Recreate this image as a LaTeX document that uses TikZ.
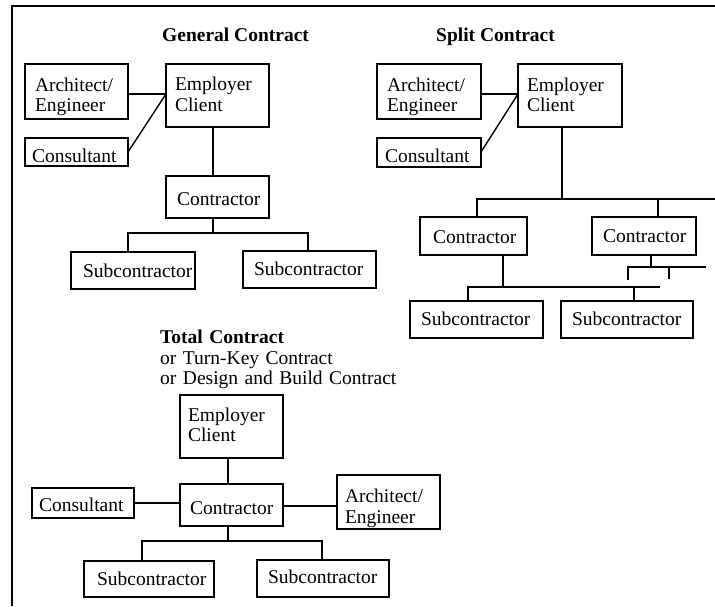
\documentclass[tikz,border=0pt]{standalone}
\usepackage{fontspec}
\setmainfont{Liberation Serif}
\newcommand\diagfont{\fontsize{19.5pt}{20.5pt}\selectfont\hyphenpenalty=10000\exhyphenpenalty=10000}
\newcommand\tightspaces{\spaceskip=0.165em\relax}
\begin{document}
\begin{tikzpicture}[x=1pt,y=-1pt,
  box/.style={draw, line width=1.6pt, rectangle, anchor=north west,
    inner xsep=0pt, inner ysep=0pt, outer sep=0pt, align=left, font=\diagfont},
  % lo: baseline below the box centre by half the value; hi: above it
  lo/.style={text height=#1, text depth=0pt},
  hi/.style={text height=0pt, text depth=#1},
  link/.style={line width=1.4pt, line join=miter},
  stub/.style={line width=2.6pt},
  frame/.style={line width=1.6pt, line join=miter},
  heading/.style={font=\diagfont\bfseries, inner sep=0pt, anchor=base west},
  subhead/.style={font=\diagfont\tightspaces, inner sep=0pt, anchor=base west, align=left, text width=260pt}]
\useasboundingbox (0,0) rectangle (715,606);

% outer frame (top and left edges)
\coordinate (fr-tr) at (715,6);
\coordinate (fr-tl) at (12,6);
\coordinate (fr-bl) at (12,606);
\draw[frame] (fr-tr) -- (fr-tl) -- (fr-bl);

% ---------------- General Contract ----------------
\node[heading] (gc-title) at (162,41.5) {General Contract};
\node[box, minimum width=103pt, minimum height=55pt, text width=83pt, hi=1pt] (gc-ae) at (25,64) {Architect/\\Engineer};
\node[box, minimum width=103pt, minimum height=63pt, text width=85pt, hi=10pt] (gc-ec) at (166,64) {Employer\\Client};
\node[box, minimum width=103pt, minimum height=28pt, text width=89pt, lo=20pt] (gc-cons) at (25,138) {Consultant};
\node[box, minimum width=103pt, minimum height=42pt, text width=81pt, lo=16pt] (gc-ctr) at (166,176) {Contractor};
\node[box, minimum width=124pt, minimum height=37pt, text width=100pt, lo=13pt] (gc-s1) at (71,252) {Subcontractor};
\node[box, minimum width=133pt, minimum height=37pt, text width=111pt, lo=11pt] (gc-s2) at (243,251) {Subcontractor};

\coordinate (gc-j) at (166,94);
\coordinate (gc-bus) at (213,233);
\draw[link] (gc-ae.east |- gc-j) -- (gc-ec.west |- gc-j);
\draw[link] (gc-cons.east |- 0,152) -- (gc-ec.west |- gc-j);
\draw[link] (gc-ec.south -| gc-bus) -- (gc-ctr.north -| gc-bus);
\draw[link] (gc-ctr.south -| gc-bus) -- (gc-bus);
\draw[link] (gc-s1.north -| 128,0) |- (gc-bus) -| (gc-s2.north -| 308,0);

% ---------------- Split Contract ----------------
\node[heading] (sc-title) at (436,41.5) {Split Contract};
\node[box, minimum width=104pt, minimum height=55pt, text width=84pt, hi=1pt] (sc-ae) at (377,64) {Architect/\\Engineer};
\node[box, minimum width=104pt, minimum height=63pt, text width=86pt, hi=9pt] (sc-ec) at (518,64) {Employer\\Client};
\node[box, minimum width=104pt, minimum height=29pt, text width=88pt, lo=19pt] (sc-cons) at (377,138) {Consultant};
\node[box, minimum width=107pt, minimum height=38pt, text width=81pt, lo=14pt] (sc-c1) at (420,217) {Contractor};
\node[box, minimum width=104pt, minimum height=38pt, text width=82pt, lo=12pt] (sc-c2) at (592,217) {Contractor};
\node[box, minimum width=133pt, minimum height=37pt, text width=111pt, lo=11pt] (sc-s1) at (410,301) {Subcontractor};
\node[box, minimum width=132pt, minimum height=37pt, text width=110pt, lo=11pt] (sc-s2) at (561,301) {Subcontractor};

\coordinate (sc-j) at (518,94);
\coordinate (sc-top) at (562,199);
\coordinate (sc-topR) at (715,199);
\coordinate (sc-low) at (503,287);
\coordinate (sc-lowR) at (660,287);
\coordinate (sc-sub) at (651,267);
\coordinate (sc-subR) at (706,267);
\draw[link] (sc-ae.east |- sc-j) -- (sc-ec.west |- sc-j);
\draw[link] (sc-cons.east |- 0,152) -- (sc-ec.west |- sc-j);
\draw[link] (sc-ec.south -| sc-top) -- (sc-top);
\draw[link] (sc-c1.north -| 477,0) |- (sc-topR);
\draw[link] (sc-c2.north -| 658,0) -- (658,199);
\draw[link] (sc-c1.south -| sc-low) -- (sc-low);
\draw[link] (sc-s1.north -| 468,0) |- (sc-lowR);
\draw[link] (sc-s2.north -| 634,0) -- (634,287);
\draw[stub] (sc-c2.south -| sc-sub) -- (sc-sub);
\draw[link] (628,280) |- (sc-subR);
\draw[link] (669,267) -- (669,279);

% ---------------- Total Contract ----------------
\node[subhead] (tc-title) at (160,343.5) {\textbf{Total Contract}\\or Turn-Key Contract\\or Design and Build Contract};
\node[box, minimum width=103pt, minimum height=63pt, text width=87pt, hi=11pt] (tc-ec) at (180,395) {Employer\\Client};
\node[box, minimum width=103pt, minimum height=42pt, text width=83pt, lo=18pt] (tc-ctr) at (180,484) {Contractor};
\node[box, minimum width=102pt, minimum height=30pt, text width=88pt, lo=16pt] (tc-cons) at (32,488) {Consultant};
\node[box, minimum width=103pt, minimum height=54pt, text width=87pt, lo=1pt] (tc-ae) at (337,475) {Architect/\\Engineer};
\node[box, minimum width=130pt, minimum height=36pt, text width=104pt, lo=12pt] (tc-s1) at (84,561) {Subcontractor};
\node[box, minimum width=132pt, minimum height=37pt, text width=110pt, lo=9pt] (tc-s2) at (257,560) {Subcontractor};

\coordinate (tc-bus) at (228,541);
\draw[link] (tc-ec.south -| tc-bus) -- (tc-ctr.north -| tc-bus);
\draw[link] (tc-cons.east |- 0,503) -- (tc-ctr.west |- 0,503);
\draw[link] (tc-ctr.east |- 0,506) -- (tc-ae.west |- 0,506);
\draw[link] (tc-ctr.south -| tc-bus) -- (tc-bus);
\draw[link] (tc-s1.north -| 142,0) |- (tc-bus) -| (tc-s2.north -| 322,0);
\end{tikzpicture}
\end{document}
